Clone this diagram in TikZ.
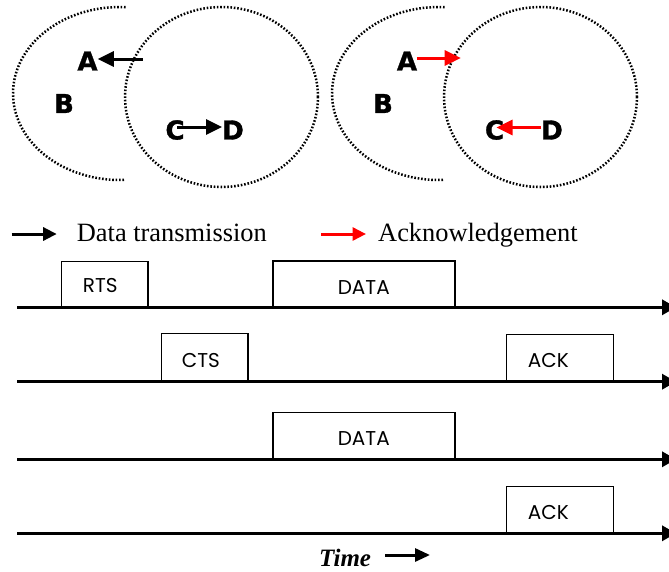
\documentclass[tikz,border=0pt]{standalone}
\usepackage{fontspec}
\setmainfont{Liberation Serif}
\newfontfamily\letterfont{DejaVu Sans}[BoldFeatures={FakeBold=1.2}]
\newfontfamily\boxfont{Poppins}
\usetikzlibrary{arrows.meta}

\begin{document}
\begin{tikzpicture}[x=1pt,y=-1pt,
  reach/.style={line width=2.5pt, dash pattern=on 1.6pt off 1.8pt},
  station/.style={font=\letterfont\bfseries\fontsize{26}{26}\selectfont, inner sep=0pt},
  sig/.style={line width=3pt, -{Triangle[length=16pt,width=15pt]}},
  acksig/.style={sig, red},
  keyarrow/.style={line width=3pt, -{Triangle[length=13.5pt,width=13pt]}},
  legendtext/.style={font=\fontsize{26.4}{26.4}\selectfont, inner sep=0pt, anchor=base west},
  timeline/.style={line width=3.3pt, -{Triangle[length=14pt,width=15pt]}},
  pktbox/.style={draw, line width=1.3pt, inner sep=0pt, anchor=south west},
  pkttext/.style={font=\boxfont\fontsize{20}{20}\selectfont, inner sep=0pt}
]
\clip (0,0) rectangle (669,571);

% ---- transmission ranges: data phase ----
\draw[reach] (120,93.5) ++(87:107pt and 86.5pt)
  arc[start angle=87, end angle=273, x radius=107pt, y radius=86.5pt];
\draw[reach] (221.5,97) ellipse[x radius=96.5pt, y radius=90pt];
\node[station] (A1) at (87.5,61) {A};
\node[station] (B1) at (64,103.5) {B};
\node[station] (C1) at (175,130) {C};
\node[station] (D1) at (233,130) {D};
\coordinate (a1) at (142.7,59);
\draw[sig] (a1) -- ([yshift=2pt]A1.east);
\draw[sig] ([xshift=2pt,yshift=3pt]C1.center) -- ([yshift=3pt]D1.west);

% ---- transmission ranges: acknowledgement phase ----
\begin{scope}[xshift=319pt]
\draw[reach] (120,93.5) ++(87:107pt and 86.5pt)
  arc[start angle=87, end angle=273, x radius=107pt, y radius=86.5pt];
\draw[reach] (221.5,97) ellipse[x radius=96.5pt, y radius=90pt];
\node[station] (A2) at (88,61) {A};
\node[station] (B2) at (64,103.5) {B};
\node[station] (C2) at (175.5,130) {C};
\node[station] (D2) at (233,130) {D};
\coordinate (a2) at (141.7,58);
\draw[acksig] ([yshift=3pt]A2.east) -- (a2);
\draw[acksig] ([yshift=2.5pt]D2.west) -- ([xshift=2pt,yshift=2.5pt]C2.center);
\end{scope}

% ---- legend ----
\coordinate (k1s) at (11.7,234);
\coordinate (k1e) at (56.7,234);
\draw[keyarrow] (k1s) -- (k1e);
\node[legendtext] (datalbl) at (76.7,241.7) {Data transmission};
\coordinate (k2s) at (321,234);
\coordinate (k2e) at (366,234);
\draw[keyarrow, red] (k2s) -- (k2e);
\node[legendtext] (acklbl) at (378,241.7) {Acknowledgement};

% ---- time lines ----
\foreach \i/\y in {1/307.3, 2/381.7, 3/459.3, 4/533.3} {
  \coordinate (t\i s) at (17.3,\y);
  \coordinate (t\i e) at (676,\y);
}
\foreach \i in {1,2,3,4} \draw[timeline] (t\i s) -- (t\i e);

% ---- packets ----
\node[pktbox, minimum width=86.6pt, minimum height=45pt]   (rts)   at (60.7,307.3) {};
\node[pktbox, minimum width=182pt,  minimum height=45.6pt] (data1) at (272.3,307.3) {};
\node[pktbox, minimum width=86.6pt, minimum height=47.4pt] (cts)   at (160.7,381.7) {};
\node[pktbox, minimum width=106.7pt,minimum height=46.7pt] (ack1)  at (506,381.7) {};
\node[pktbox, minimum width=182pt,  minimum height=46pt]   (data2) at (272.3,459.3) {};
\node[pktbox, minimum width=106.7pt,minimum height=46pt]   (ack2)  at (506,533.3) {};

\node[pkttext, anchor=west] (rtsl)   at (82.7,285.8)  {RTS};
\node[pkttext]              (data1l) at (363.8,287.2) {DATA};
\node[pkttext, anchor=west] (ctsl)   at (181.7,360.3) {CTS};
\node[pkttext, anchor=west] (ack1l)  at (527.7,360.8) {ACK};
\node[pkttext]              (data2l) at (363.8,438.8) {DATA};
\node[pkttext, anchor=west] (ack2l)  at (527.7,512.2) {ACK};

% ---- time axis caption ----
\node[font=\bfseries\itshape\fontsize{25}{25}\selectfont, inner sep=0pt, anchor=base west]
  (time) at (319,566.7) {Time};
\coordinate (ts) at (385,555);
\coordinate (te) at (430,555);
\draw[line width=3pt, -{Triangle[length=15pt,width=13pt]}] (ts) -- (te);
\end{tikzpicture}
\end{document}
